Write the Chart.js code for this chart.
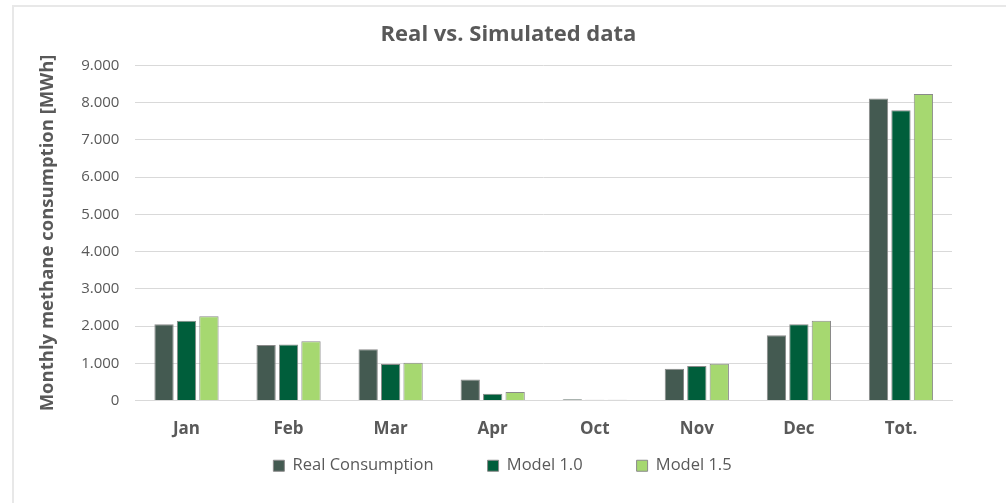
<!DOCTYPE html>
<html>
<head>
<meta charset="utf-8">
<script src="https://cdn.jsdelivr.net/npm/chart.js@4.4.1/dist/chart.umd.min.js"></script>
<style>
  html, body { margin: 0; padding: 0; background: #fff; }
  #frame {
    position: absolute; left: 12px; top: 5px; width: 994px; height: 498px;
    border-left: 2px solid #e8e8e8; border-top: 2px solid #e8e8e8;
  }
  #wrap { position: absolute; left: 0; top: 0; width: 992px; height: 496px; }
</style>
</head>
<body>
<div id="frame"><div id="wrap"><canvas id="chart"></canvas></div></div>
<script>
// data (MWh)
const categories = ['Jan', 'Feb', 'Mar', 'Apr', 'Oct', 'Nov', 'Dec', 'Tot.'];
const realConsumption = [2045, 1490, 1375, 565, 35, 855, 1755, 8110];
const model10 = [2140, 1505, 980, 180, 20, 925, 2045, 7795];
const model15 = [2260, 1590, 1015, 225, 20, 990, 2145, 8230];
const seriesNames = ['Real Consumption', 'Model 1.0', 'Model 1.5'];

const grey = '#595959';
const font = "'Open Sans', 'Noto Sans', sans-serif";

function fmt(v) {
  // thousands with a dot, like the source
  return String(v).replace(/\B(?=(\d{3})+(?!\d))/g, '.');
}

// title + legend centred on the whole frame; x labels may hang into the legend padding
const tweakLayout = {
  id: 'tweakLayout',
  afterLayout(chart) {
    chart.titleBlock.left += 16;
    chart.titleBlock.right += 16;
    chart.legend.left += 10;
    chart.legend.right += 10;
    const x = chart.scales.x;
    x.bottom = x.top + 45;
    x.height = 45;
  }
};

const ctx = document.getElementById('chart');
new Chart(ctx, {
  type: 'bar',
  data: {
    labels: categories,
    datasets: [
      { label: seriesNames[0], data: realConsumption, backgroundColor: '#445a51', borderColor: '#8a8a8a', borderWidth: 1 },
      { label: seriesNames[1], data: model10, backgroundColor: '#005e3b', borderColor: '#8a8a8a', borderWidth: 1 },
      { label: seriesNames[2], data: model15, backgroundColor: '#a6d870', borderColor: '#8a8a8a', borderWidth: 1 }
    ]
  },
  plugins: [tweakLayout],
  options: {
    responsive: true,
    maintainAspectRatio: false,
    animation: false,
    datasets: { bar: { categoryPercentage: 0.66, barPercentage: 0.86 } },
    layout: { padding: { left: 19, right: 54, top: 6, bottom: 19 } },
    plugins: {
      title: {
        display: true,
        text: 'Real vs. Simulated data',
        color: grey,
        font: { family: font, size: 22, weight: 'bold' },
        padding: { top: 9, bottom: 17 }
      },
      legend: {
        position: 'bottom',
        labels: {
          color: grey,
          font: { family: font, size: 16.5 },
          boxWidth: 11,
          boxHeight: 11,
          padding: 54
        }
      },
      tooltip: { enabled: false }
    },
    scales: {
      x: {
        grid: { display: false },
        border: { color: '#d9d9d9' },
        ticks: { color: grey, font: { family: font, size: 17, weight: 'bold' }, padding: 10 },
        afterFit: s => { s.height = 3; }
      },
      y: {
        min: 0,
        max: 9000,
        ticks: {
          stepSize: 1000,
          color: grey,
          font: { family: font, size: 15 },
          padding: 16,
          callback: v => fmt(v)
        },
        grid: { color: '#d9d9d9', lineWidth: 1, drawTicks: false },
        border: { display: false },
        title: {
          display: true,
          text: 'Monthly methane consumption [MWh]',
          color: grey,
          font: { family: font, size: 18.5, weight: 'bold' },
          padding: { bottom: 6 }
        }
      }
    }
  }
});
</script>
</body>
</html>
